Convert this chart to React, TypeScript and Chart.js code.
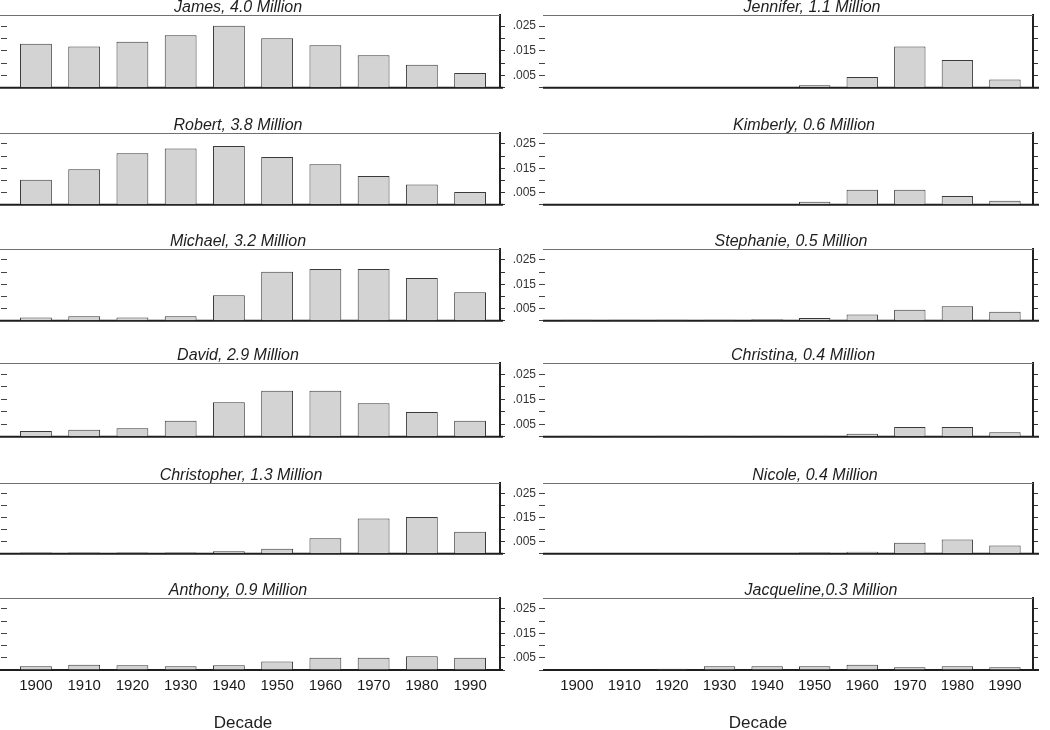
import React, { useEffect, useRef } from 'react';
import { Chart, registerables } from 'chart.js';

Chart.register(...registerables);

// ---------- data ----------
const decades = [1900, 1910, 1920, 1930, 1940, 1950, 1960, 1970, 1980, 1990];

const yTickValues = [0, 0.005, 0.01, 0.015, 0.02, 0.025];
const yTickLabels = ['', '.005', '', '.015', '', '.025'];

const james = [0.0179, 0.0167, 0.0187, 0.0213, 0.0251, 0.0201, 0.0172, 0.0132, 0.0093, 0.006];
const robert = [0.0103, 0.0146, 0.0212, 0.0231, 0.0242, 0.0196, 0.0167, 0.0118, 0.0083, 0.0053];
const michael = [0.0014, 0.0019, 0.0014, 0.0019, 0.0105, 0.0202, 0.0213, 0.0213, 0.0176, 0.0117];
const david = [0.0023, 0.0028, 0.0034, 0.0064, 0.0138, 0.0184, 0.0184, 0.0134, 0.0099, 0.0064];
const christopher = [0.0005, 0.0005, 0.0005, 0.0005, 0.0011, 0.0021, 0.0065, 0.0147, 0.0153, 0.0092];
const anthony = [0.0015, 0.0021, 0.0019, 0.0015, 0.0019, 0.0035, 0.005, 0.005, 0.0056, 0.005];

const jennifer = [0, 0, 0, 0, 0.0003, 0.001, 0.0044, 0.0167, 0.0113, 0.0034];
const kimberly = [0, 0, 0, 0, 0, 0.0013, 0.0062, 0.0062, 0.0036, 0.0017];
const stephanie = [0.0004, 0.0004, 0.0004, 0.0004, 0.0006, 0.0011, 0.0026, 0.0045, 0.006, 0.0037];
const christina = [0.0004, 0.0004, 0.0004, 0.0004, 0.0004, 0.0004, 0.0012, 0.0039, 0.0039, 0.0018];
const nicole = [0, 0, 0, 0, 0, 0.0005, 0.0009, 0.0046, 0.006, 0.0035];
const jacqueline = [0.0003, 0.0003, 0.0005, 0.0015, 0.0015, 0.0015, 0.0021, 0.0011, 0.0015, 0.0011];

const leftTitles = [
  'James, 4.0 Million',
  'Robert, 3.8 Million',
  'Michael, 3.2 Million',
  'David, 2.9 Million',
  'Christopher, 1.3 Million',
  'Anthony, 0.9 Million',
];
const rightTitles = [
  'Jennifer, 1.1 Million',
  'Kimberly, 0.6 Million',
  'Stephanie, 0.5 Million',
  'Christina, 0.4 Million',
  'Nicole, 0.4 Million',
  'Jacqueline,0.3 Million',
];
const leftSeries = [james, robert, michael, david, christopher, anthony];
const rightSeries = [jennifer, kimberly, stephanie, christina, nicole, jacqueline];
const xAxisTitle = 'Decade';

// ---------- layout (page pixels) ----------
const FONT = '"Liberation Sans", Arial, Helvetica, sans-serif';
const YMAX = 0.0295;
const TITLE_SPACE = 24;
const BOTTOM_PAD = 10;
const X_AXIS_H = 60;
const LEFT_AXIS_W = 47;
const RIGHT_AXIS_W = 6;
const rowTops = [15, 133, 249, 363, 483, 598];
const rowBottoms = [88, 205, 321, 437, 554, 670];
const colPlotLeft = [7, 545];
const colPlotRight = [500, 1033];
const colXMin = [1894.0, 1893.3];
const colXMax = [1996.2, 1995.9];
const colLineStart = [0, 543];
const colLineEndExtra = [3, 7];
const titleCenters = [
  [238, 812],
  [238, 804],
  [238, 791],
  [238, 803],
  [241, 815],
  [238, 821],
];
const decadeCenters = [243, 758];
const DECADE_Y = 723;

function Panel({ row, col }: { row: number; col: number }) {
  const ref = useRef<HTMLCanvasElement | null>(null);
  const isBottom = row === rowTops.length - 1;
  const canvasLeft = colPlotLeft[col] - LEFT_AXIS_W;
  const canvasTop = rowTops[row] - TITLE_SPACE;
  const plotH = rowBottoms[row] - rowTops[row];
  const width = colPlotRight[col] + RIGHT_AXIS_W - canvasLeft;
  const height = TITLE_SPACE + plotH + (isBottom ? X_AXIS_H : BOTTOM_PAD);
  const title = col === 0 ? leftTitles[row] : rightTitles[row];
  const values = col === 0 ? leftSeries[row] : rightSeries[row];

  useEffect(() => {
    if (!ref.current) return;
    const setYTicks = (s: any) => {
      s.ticks = yTickValues.map((v) => ({ value: v }));
    };
    const frame = {
      id: 'frame',
      beforeDatasetsDraw(chart: any) {
        const { ctx, chartArea } = chart;
        const { right, top, bottom } = chartArea;
        const x0 = colLineStart[col] - canvasLeft;
        ctx.save();
        ctx.strokeStyle = '#707070';
        ctx.lineWidth = 1;
        ctx.beginPath();
        ctx.moveTo(x0, top + 0.5);
        ctx.lineTo(right, top + 0.5);
        ctx.stroke();
        ctx.strokeStyle = '#1e1e1e';
        ctx.lineWidth = 2;
        ctx.beginPath();
        ctx.moveTo(x0, bottom);
        ctx.lineTo(right + colLineEndExtra[col], bottom);
        ctx.stroke();
        ctx.restore();
      },
      afterDraw(chart: any) {
        const { ctx, chartArea } = chart;
        const { top } = chartArea;
        ctx.save();
        ctx.fillStyle = '#1e1e1e';
        ctx.font = `italic 16px ${FONT}`;
        ctx.textAlign = 'center';
        ctx.textBaseline = 'alphabetic';
        ctx.fillText(title, titleCenters[row][col] - canvasLeft, top - 3);
        if (isBottom) {
          ctx.font = `17px ${FONT}`;
          ctx.textBaseline = 'middle';
          ctx.fillText(xAxisTitle, decadeCenters[col] - canvasLeft, DECADE_Y - canvasTop);
        }
        ctx.restore();
      },
    };

    const chart = new Chart(ref.current, {
      type: 'bar',
      data: {
        datasets: [
          {
            data: decades.map((d, i) => ({ x: d, y: values[i] })),
            backgroundColor: '#d3d3d3',
            borderColor: '#3a3a3a',
            borderWidth: 1,
            barPercentage: 0.66,
            categoryPercentage: 1,
          },
        ],
      },
      options: {
        responsive: false,
        animation: false,
        devicePixelRatio: 1,
        layout: { padding: { top: TITLE_SPACE, bottom: isBottom ? 0 : BOTTOM_PAD, left: 0, right: 0 } },
        plugins: { legend: { display: false }, tooltip: { enabled: false }, title: { display: false } },
        scales: {
          x: {
            type: 'linear',
            offset: false,
            min: colXMin[col],
            max: colXMax[col],
            display: isBottom,
            afterBuildTicks: (s: any) => {
              s.ticks = decades.map((v) => ({ value: v }));
            },
            afterFit: (s: any) => {
              if (isBottom) s.height = X_AXIS_H;
            },
            grid: { display: false, drawTicks: false, offset: false },
            border: { display: false },
            ticks: {
              autoSkip: false,
              maxRotation: 0,
              padding: 7,
              color: '#1a1a1a',
              font: { family: FONT, size: 15 },
              callback: (v: any) => String(v),
            },
          },
          y: {
            position: 'left',
            min: 0,
            max: YMAX,
            afterBuildTicks: setYTicks,
            afterFit: (s: any) => {
              s.width = LEFT_AXIS_W;
            },
            grid: { drawOnChartArea: false, drawTicks: true, tickLength: 6, color: '#444' },
            border: { display: false },
            ticks: {
              autoSkip: false,
              padding: 3,
              color: '#333',
              font: { family: FONT, size: 12 },
              callback: (_v: any, i: number) => yTickLabels[i],
            },
          },
          y2: {
            position: 'right',
            min: 0,
            max: YMAX,
            afterBuildTicks: setYTicks,
            afterFit: (s: any) => {
              s.width = RIGHT_AXIS_W;
            },
            grid: { drawOnChartArea: false, drawTicks: true, tickLength: 5, color: '#333' },
            border: { display: true, width: 2, color: '#222' },
            ticks: { display: false },
          },
        },
      },
      plugins: [frame],
    } as any);
    return () => chart.destroy();
  }, [row, col]);

  return (
    <canvas
      ref={ref}
      width={width}
      height={height}
      style={{ position: 'absolute', left: canvasLeft, top: canvasTop, width, height }}
    />
  );
}

export default function App() {
  const panels: { row: number; col: number }[] = [];
  for (let r = 0; r < rowTops.length; r++) {
    panels.push({ row: r, col: 0 });
    panels.push({ row: r, col: 1 });
  }
  return (
    <div
      style={{
        position: 'absolute',
        left: 0,
        top: 0,
        width: 1050,
        height: 730,
        overflow: 'hidden',
        background: '#ffffff',
      }}
    >
      {panels.map((p) => (
        <Panel key={`${p.row}-${p.col}`} row={p.row} col={p.col} />
      ))}
    </div>
  );
}
